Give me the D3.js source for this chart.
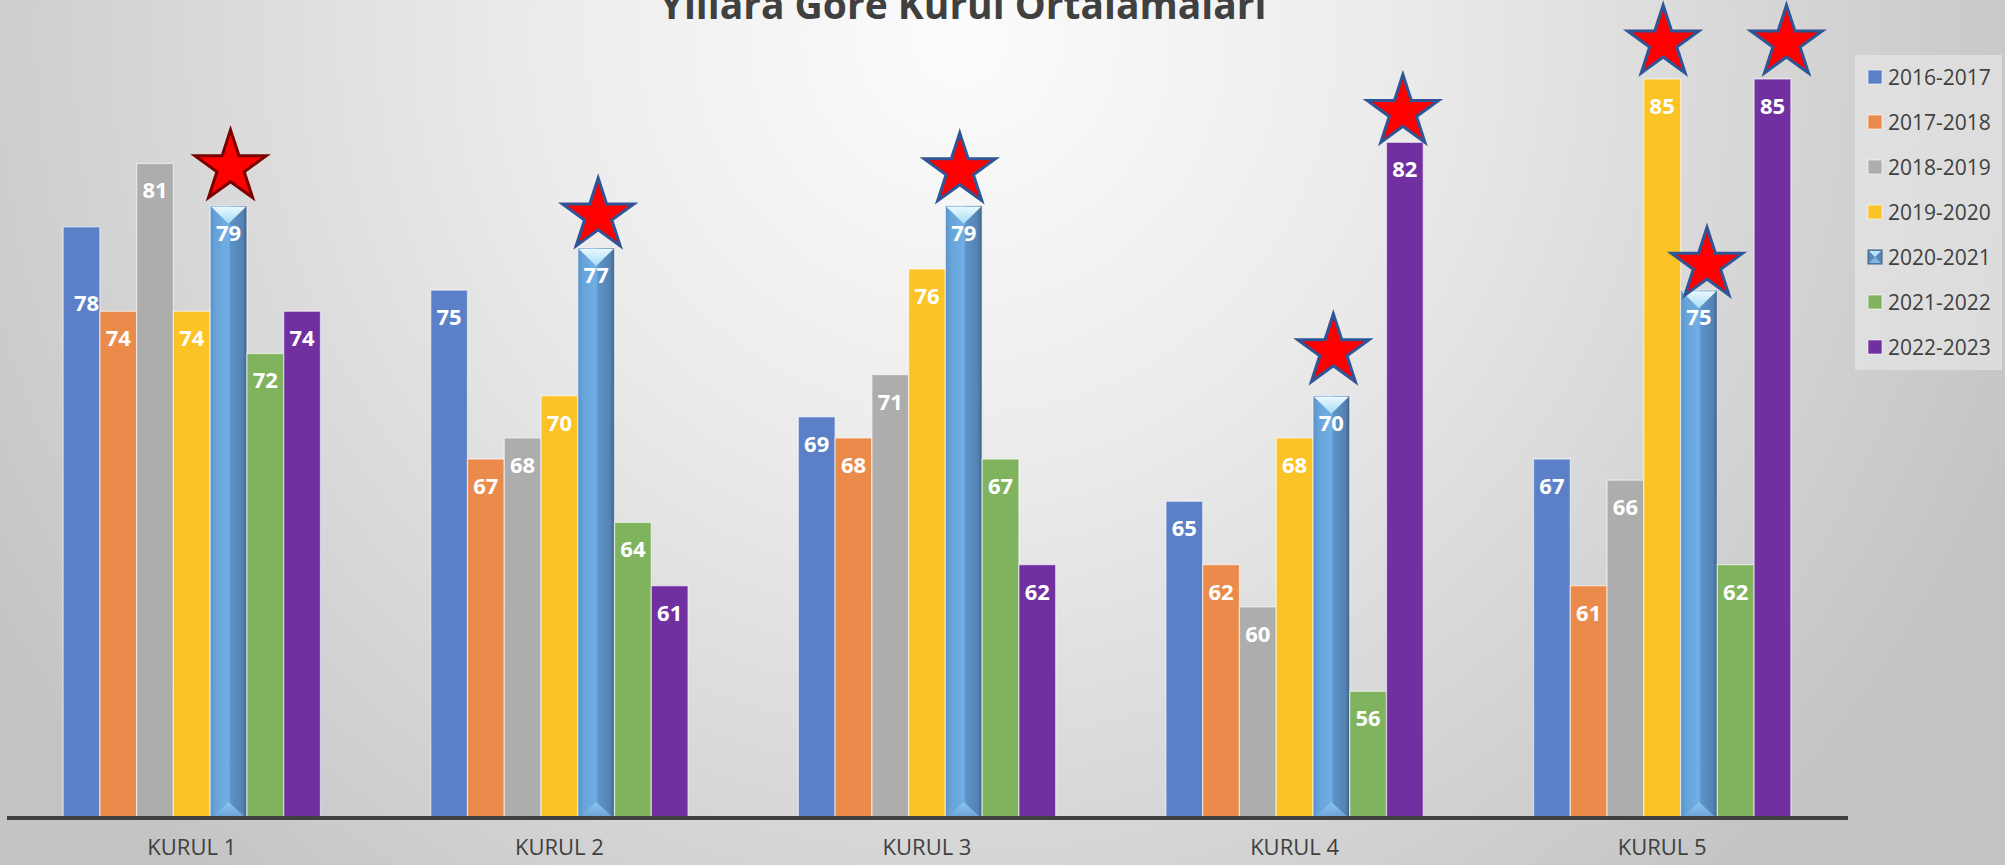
<!DOCTYPE html>
<html>
<head>
<meta charset="utf-8">
<script src="https://cdnjs.cloudflare.com/ajax/libs/d3/7.8.5/d3.min.js"></script>
<style>
  body { margin: 0; background: #d0d0d0; }
  svg { display: block; }
</style>
</head>
<body>
<svg id="grafik" width="2005" height="865"></svg>
<script>
  var width = 2005, height = 865

  // veriler
  var kurullar = ["KURUL 1", "KURUL 2", "KURUL 3", "KURUL 4", "KURUL 5"]
  var yillar = ["2016-2017", "2017-2018", "2018-2019", "2019-2020", "2020-2021", "2021-2022", "2022-2023"]
  var renkler = ["#5b80c7", "#eb8b4b", "#adadad", "#fbc325", "#6aa6db", "#80b35e", "#7030a0"]

  var y1617 = [78, 75, 69, 65, 67]
  var y1718 = [74, 67, 68, 62, 61]
  var y1819 = [81, 68, 71, 60, 66]
  var y1920 = [74, 70, 76, 68, 85]
  var y2021 = [79, 77, 79, 70, 75]
  var y2122 = [72, 64, 67, 56, 62]
  var y2223 = [74, 61, 62, 82, 85]
  var seriler = [y1617, y1718, y1819, y1920, y2021, y2122, y2223]

  // yildiz konan cubuklar: [kurul, yil]
  var yildizlar = [
    ["KURUL 1", "2020-2021"],
    ["KURUL 2", "2020-2021"],
    ["KURUL 3", "2020-2021"],
    ["KURUL 4", "2020-2021"],
    ["KURUL 4", "2022-2023"],
    ["KURUL 5", "2019-2020"],
    ["KURUL 5", "2020-2021"],
    ["KURUL 5", "2022-2023"]
  ]

  var baslik = "Yıllara Göre Kurul Ortalamaları"

  var svg = d3.select("#grafik")
  var defs = svg.append("defs")

  // arka plan
  var bg = defs.append("radialGradient").attr("id", "arka")
    .attr("gradientUnits", "userSpaceOnUse")
    .attr("cx", 960).attr("cy", 40).attr("r", 1150)
  bg.append("stop").attr("offset", "0").attr("stop-color", "#fcfcfc")
  bg.append("stop").attr("offset", "0.38").attr("stop-color", "#ebebeb")
  bg.append("stop").attr("offset", "1").attr("stop-color", "#c3c3c3")
  svg.append("rect").attr("width", width).attr("height", height).attr("fill", "url(#arka)")

  // silindir gorunumlu seri icin
  var cyl = defs.append("linearGradient").attr("id", "silindir")
    .attr("x1", 0).attr("x2", 1).attr("y1", 0).attr("y2", 0)
  cyl.append("stop").attr("offset", "0").attr("stop-color", "#5a92c9")
  cyl.append("stop").attr("offset", "0.15").attr("stop-color", "#67a3da")
  cyl.append("stop").attr("offset", "0.5").attr("stop-color", "#70afe3")
  cyl.append("stop").attr("offset", "0.56").attr("stop-color", "#5d93c7")
  cyl.append("stop").attr("offset", "0.88").attr("stop-color", "#5482b3")
  cyl.append("stop").attr("offset", "1").attr("stop-color", "#3f6287")

  var kapak = defs.append("linearGradient").attr("id", "kapak")
    .attr("x1", 0).attr("x2", 0).attr("y1", 0).attr("y2", 1)
  kapak.append("stop").attr("offset", "0").attr("stop-color", "#eaf9ff")
  kapak.append("stop").attr("offset", "1").attr("stop-color", "#a6dcf4")

  var taban = defs.append("linearGradient").attr("id", "taban")
    .attr("x1", 0).attr("x2", 0).attr("y1", 0).attr("y2", 1)
  taban.append("stop").attr("offset", "0").attr("stop-color", "#8ec6f0")
  taban.append("stop").attr("offset", "1").attr("stop-color", "#6aa4d6")

  var x0 = d3.scaleBand().domain(kurullar).range([8, 1846]).paddingInner(0.3).paddingOuter(0.15)
  var x1 = d3.scaleBand().domain(yillar).range([0, x0.bandwidth()])
  var y = d3.scaleLinear().domain([50, 85]).range([818, 79])
  var renk = d3.scaleOrdinal().domain(yillar).range(renkler)

  var data = []
  kurullar.forEach(function(k, i) {
    yillar.forEach(function(yil, j) {
      data.push({kurul: k, yil: yil, deger: seriler[j][i]})
    })
  })

  // baslik
  svg.append("text")
    .attr("x", 963).attr("y", 19)
    .attr("text-anchor", "middle")
    .style("font-family", "'Open Sans', sans-serif")
    .style("font-weight", "bold")
    .style("font-size", "39px")
    .attr("fill", "#404040")
    .text(baslik)

  var g = svg.append("g")

  var cubuk = g.selectAll(".cubuk")
    .data(data)
    .enter().append("g")
    .attr("class", "cubuk")
    .attr("transform", function(d) { return "translate(" + (x0(d.kurul) + x1(d.yil)) + ",0)" })

  var bw = x1.bandwidth()

  cubuk.append("rect")
    .attr("x", 0)
    .attr("y", function(d) { return y(d.deger) })
    .attr("width", bw)
    .attr("height", function(d) { return y(50) - y(d.deger) })
    .attr("fill", function(d) { return d.yil == "2020-2021" ? "url(#silindir)" : renk(d.yil) })
    .attr("stroke", "rgba(255,255,255,0.55)")
    .attr("stroke-width", 1.3)

  // silindir kapaklari
  var ozel = cubuk.filter(function(d) { return d.yil == "2020-2021" })
  ozel.append("path")
    .attr("d", function(d) {
      var t = y(d.deger)
      return "M1," + (t + 1) + "L" + (bw - 1) + "," + (t + 1) + "L" + (bw / 2) + "," + (t + 18) + "Z"
    })
    .attr("fill", "url(#kapak)")
  ozel.append("path")
    .attr("d", function(d) {
      var b = y(50)
      return "M2," + (b - 1) + "L" + (bw - 2) + "," + (b - 1) + "L" + (bw / 2) + "," + (b - 16) + "Z"
    })
    .attr("fill", "url(#taban)")

  // etiketler
  var etiketKaydir = {"KURUL 1|2016-2017": [5, 49]}
  cubuk.append("text")
    .attr("x", function(d) {
      var n = etiketKaydir[d.kurul + "|" + d.yil]
      return bw / 2 + (n ? n[0] : 0)
    })
    .attr("y", function(d) {
      var n = etiketKaydir[d.kurul + "|" + d.yil]
      return y(d.deger) + 35 + (n ? n[1] : 0)
    })
    .attr("text-anchor", "middle")
    .style("font-family", "'Open Sans', sans-serif")
    .style("font-weight", "bold")
    .style("font-size", "22px")
    .attr("fill", "#ffffff")
    .text(function(d) { return d.deger })

  // eksen
  svg.append("line")
    .attr("x1", 7).attr("x2", 1848)
    .attr("y1", y(50)).attr("y2", y(50))
    .attr("stroke", "#404040").attr("stroke-width", 4)

  var xAxis = svg.append("g")
    .attr("transform", "translate(0," + y(50) + ")")
    .call(d3.axisBottom(x0).tickSize(0).tickPadding(19))
  xAxis.select(".domain").remove()
  xAxis.selectAll("text")
    .style("font-family", "'Open Sans', sans-serif")
    .style("font-size", "22px")
    .attr("fill", "#404040")
    .attr("dy", "0.8em")

  // yildizlar
  function yildiz(R) {
    var r = R * 0.382, pts = []
    for (var i = 0; i < 10; i++) {
      var a = -Math.PI / 2 + i * Math.PI / 5
      var rr = i % 2 ? r : R
      pts.push([rr * Math.cos(a), rr * Math.sin(a)])
    }
    return "M" + pts.join("L") + "Z"
  }
  // elle yerlestirilmis yildizlarin kaymalari [dx, bosluk]
  var yildizKaydir = [[2, 8], [2, 2], [-4, 5], [2, 14], [-2, 0], [1, 6], [8, -5], [14, 6]]
  var R = 37.5
  svg.selectAll(".yildiz")
    .data(yildizlar)
    .enter().append("path")
    .attr("class", "yildiz")
    .attr("d", yildiz(R))
    .attr("transform", function(d, i) {
      var deger = seriler[yillar.indexOf(d[1])][kurullar.indexOf(d[0])]
      var cx = x0(d[0]) + x1(d[1]) + bw / 2 + yildizKaydir[i][0]
      var cy = y(deger) - yildizKaydir[i][1] - R * 0.809
      return "translate(" + cx + "," + cy + ")"
    })
    .attr("fill", "#ff0000")
    .attr("stroke", function(d, i) { return i == 0 ? "#7a0000" : "#2f5597" })
    .attr("stroke-width", 3)
    .attr("stroke-linejoin", "miter")

  // lejant
  var lejant = svg.append("g")
  lejant.append("rect")
    .attr("x", 1855).attr("y", 55).attr("width", 147).attr("height", 315)
    .attr("fill", "#ececec").attr("opacity", 0.55)

  var li = lejant.selectAll(".li")
    .data(yillar)
    .enter().append("g")
    .attr("class", "li")
    .attr("transform", function(d, i) { return "translate(1868," + (77 + i * 45) + ")" })

  li.append("rect")
    .attr("x", 0).attr("y", -7).attr("width", 14).attr("height", 14)
    .attr("fill", function(d) { return d == "2020-2021" ? "#5a87b5" : renk(d) })
    .attr("stroke", function(d) { return d == "2020-2021" ? "#3f6287" : "rgba(255,255,255,0.6)" })
    .attr("stroke-width", 1)
  li.filter(function(d) { return d == "2020-2021" }).append("path")
    .attr("d", "M1,-6L13,-6L7,0Z")
    .attr("fill", "#b8e6fa")
  li.filter(function(d) { return d == "2020-2021" }).append("path")
    .attr("d", "M1,6L13,6L7,0Z")
    .attr("fill", "#7fb6e6")

  li.append("text")
    .attr("x", 20).attr("y", 0).attr("dy", "0.36em")
    .style("font-family", "'Open Sans', sans-serif")
    .style("font-size", "21px")
    .attr("fill", "#404040")
    .text(function(d) { return d })
</script>
</body>
</html>
